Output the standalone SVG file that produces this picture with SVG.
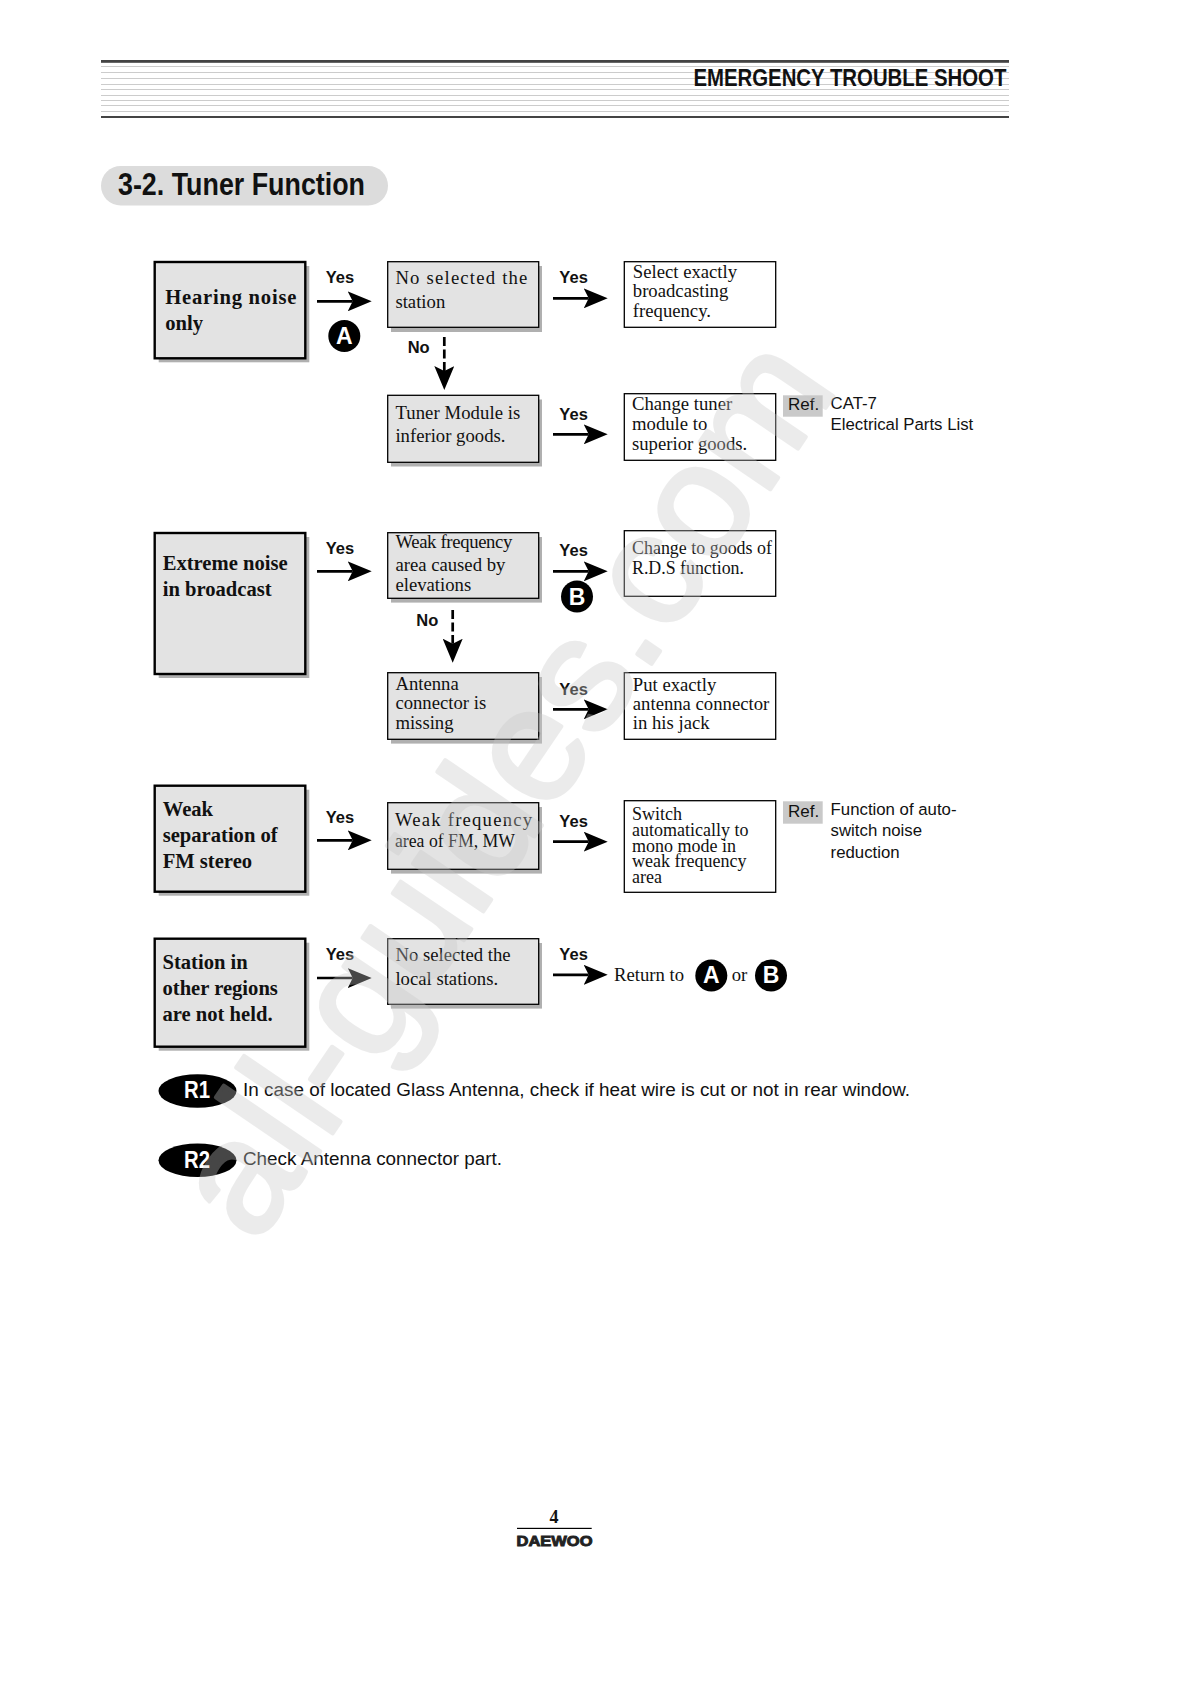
<svg xmlns="http://www.w3.org/2000/svg" width="1191" height="1684" viewBox="0 0 1191 1684">
<style>
text{font-family:"Liberation Serif","Times New Roman",serif;fill:#111}
.sans{font-family:"Liberation Sans",Arial,sans-serif}
.head{font-family:"Liberation Sans",Arial,sans-serif;font-weight:700}
.yes{font-family:"Liberation Sans",Arial,sans-serif;font-weight:700;font-size:16.5px;text-anchor:middle}
.big{font-weight:700;font-size:20.6px}
.t{font-size:18.7px}
.s{font-size:18px}
.note{font-family:"Liberation Sans",Arial,sans-serif;font-size:16.8px}
.ref{font-family:"Liberation Sans",Arial,sans-serif;font-size:17px}
.sh{fill:#b0b0b0}
.thick{fill:#e3e3e3;stroke:#000;stroke-width:2.4}
.mid{fill:#e3e3e3;stroke:#000;stroke-width:1.3}
.plain{fill:#fff;stroke:#000;stroke-width:1.3}
.refbg{fill:#c9c9c9}
.rule{fill:#444}
.ln{stroke:#ccc;stroke-width:1}
.conn{stroke:#000;stroke-width:2.7;fill:none;marker-end:url(#ah)}
.dash{stroke-dasharray:9 3.5}
.badge{fill:#000}
.bl{font-family:"Liberation Sans",Arial,sans-serif;font-weight:700;font-size:23px;text-anchor:middle;fill:#fff}
</style>
<defs>
<marker id="ah" markerUnits="userSpaceOnUse" markerWidth="24" markerHeight="20" viewBox="0 0 24 20" refX="5" refY="10" orient="auto"><path d="M0 0L24 10L0 20L5 10Z" fill="#000"/></marker>
</defs>
<rect width="1191" height="1684" fill="#fff"/>
<g id="header">
<rect class="rule" x="101" y="60" width="908" height="2.8"/>
<g class="ln"><path d="M101 66.5H1009M101 72.5H1009M101 78.5H1009M101 84.5H1009M101 89.5H1009M101 95.5H1009M101 100.5H1009M101 105.5H1009M101 111.5H1009"/></g>
<rect class="rule" x="101" y="116" width="908" height="2"/>
<text class="head" x="693.4" y="85.5" font-size="23.5" textLength="313" lengthAdjust="spacingAndGlyphs">EMERGENCY TROUBLE SHOOT</text>
</g>
<g id="section-title">
<rect x="101" y="166" width="287" height="39.5" rx="19.7" fill="#dcdcdc"/>
<text class="head" x="118" y="195" font-size="31" textLength="247" lengthAdjust="spacingAndGlyphs">3-2. Tuner Function</text>
</g>

<g id="n-hearing"><rect class="sh" x="158.7" y="266" width="150.6" height="96.3"/><rect class="thick" x="154.7" y="262" width="150.6" height="96.3"/>
<text class="big" x="165.3" y="304" textLength="131">Hearing noise</text><text class="big" x="165.3" y="330">only</text></g>
<g id="n-noselected"><rect class="sh" x="391" y="266" width="151" height="66"/><rect class="mid" x="387.7" y="261.7" width="151" height="65.6"/>
<text class="t" x="395.4" y="284.3" textLength="132">No selected the</text><text class="t" x="395.4" y="308.3">station</text></g>
<g id="n-select"><rect class="plain" x="624.3" y="261.7" width="151.4" height="65.6"/>
<text class="t" x="632.8" y="278.3">Select exactly</text><text class="t" x="632.8" y="297.4">broadcasting</text><text class="t" x="632.8" y="317">frequency.</text></g>
<g id="n-tuner"><rect class="sh" x="391" y="399.5" width="151" height="67"/><rect class="mid" x="387.7" y="395.3" width="151" height="67"/>
<text class="t" x="395.4" y="419" textLength="125">Tuner Module is</text><text class="t" x="395.4" y="442">inferior goods.</text></g>
<g id="n-change"><rect class="plain" x="624.3" y="393.7" width="151.4" height="66.6"/>
<text class="t" x="632" y="410.3">Change tuner</text><text class="t" x="632" y="430.3">module to</text><text class="t" x="632" y="450">superior goods.</text></g>
<g id="n-ref1"><rect class="refbg" x="783" y="395.3" width="39.7" height="21.4"/><text class="ref" x="788" y="410">Ref.</text>
<text class="note" x="830.6" y="409.3">CAT-7</text><text class="note" x="830.6" y="430.3">Electrical Parts List</text></g>

<g id="n-extreme"><rect class="sh" x="158.7" y="537" width="150.6" height="141"/><rect class="thick" x="154.7" y="533" width="150.6" height="141"/>
<text class="big" x="162.7" y="570">Extreme noise</text><text class="big" x="162.7" y="596">in broadcast</text></g>
<g id="n-weakarea"><rect class="sh" x="391" y="537" width="151" height="65.6"/><rect class="mid" x="387.7" y="532.7" width="151" height="65.6"/>
<text class="t" x="395.4" y="548" textLength="117">Weak frequency</text><text class="t" x="395.4" y="570.7">area caused by</text><text class="t" x="395.4" y="590.7">elevations</text></g>
<g id="n-rds"><rect class="plain" x="624.3" y="530.7" width="151.4" height="65.6"/>
<text class="s" x="632" y="554" textLength="140" lengthAdjust="spacingAndGlyphs">Change to goods of</text><text class="s" x="632" y="574" textLength="112" lengthAdjust="spacingAndGlyphs">R.D.S function.</text></g>
<g id="n-antenna"><rect class="sh" x="391" y="677" width="151" height="66.6"/><rect class="mid" x="387.7" y="672.7" width="151" height="66.6"/>
<text class="t" x="395.4" y="690">Antenna</text><text class="t" x="395.4" y="709.3">connector is</text><text class="t" x="395.4" y="729.3">missing</text></g>
<g id="n-put"><rect class="plain" x="624.3" y="672.7" width="151.4" height="66.6"/>
<text class="t" x="632.8" y="691">Put exactly</text><text class="t" x="632.8" y="709.5">antenna connector</text><text class="t" x="632.8" y="728.5">in his jack</text></g>

<g id="n-weaksep"><rect class="sh" x="158.7" y="789.7" width="150.6" height="106"/><rect class="thick" x="154.7" y="785.7" width="150.6" height="106"/>
<text class="big" x="162.7" y="815.7">Weak</text><text class="big" x="162.7" y="841.7">separation of</text><text class="big" x="162.7" y="867.7">FM stereo</text></g>
<g id="n-weakfm"><rect class="sh" x="391" y="807" width="151" height="66.6"/><rect class="mid" x="387.7" y="802.7" width="151" height="66.6"/>
<text class="t" x="395" y="826" textLength="137">Weak  frequency</text><text class="t" x="395" y="846.7" textLength="120" lengthAdjust="spacingAndGlyphs">area of FM, MW</text></g>
<g id="n-switch"><rect class="plain" x="624.3" y="800.7" width="151.4" height="91.6"/>
<text class="s" x="632" y="820">Switch</text><text class="s" x="632" y="836">automatically to</text><text class="s" x="632" y="851.7">mono mode in</text><text class="s" x="632" y="867.3">weak frequency</text><text class="s" x="632" y="883">area</text></g>
<g id="n-ref2"><rect class="refbg" x="783" y="801.3" width="39.7" height="22.4"/><text class="ref" x="788" y="816.7">Ref.</text>
<text class="note" x="830.6" y="815">Function of auto-</text><text class="note" x="830.6" y="836">switch noise</text><text class="note" x="830.6" y="857.7">reduction</text></g>

<g id="n-station"><rect class="sh" x="158.7" y="942.7" width="150.6" height="108"/><rect class="thick" x="154.7" y="938.7" width="150.6" height="108"/>
<text class="big" x="162.5" y="968.7">Station in</text><text class="big" x="162.5" y="995">other regions</text><text class="big" x="162.5" y="1020.7">are not held.</text></g>
<g id="n-local"><rect class="sh" x="391" y="943" width="151" height="65.6"/><rect class="mid" x="387.7" y="938.7" width="151" height="65.6"/>
<text class="t" x="395.4" y="961">No selected the</text><text class="t" x="395.4" y="985">local stations.</text></g>
<g id="n-return"><text class="t" x="614" y="981.4">Return to</text>
<circle class="badge" cx="711.3" cy="975.5" r="16"/><text class="bl" x="711.3" y="983">A</text>
<text class="t" x="731.7" y="981.4">or</text>
<circle class="badge" cx="771" cy="975.5" r="16"/><text class="bl" x="771" y="983">B</text></g>

<g id="badge-a"><circle class="badge" cx="344.3" cy="336" r="16"/><text class="bl" x="344.3" y="344">A</text></g>
<g id="badge-b"><circle class="badge" cx="577" cy="596.5" r="16"/><text class="bl" x="577" y="604.5">B</text></g>

<g id="connectors">
<line class="conn" x1="317" y1="301.3" x2="352.7" y2="301.3"/>
<line class="conn" x1="553" y1="298.3" x2="588.7" y2="298.3"/>
<line class="conn" x1="553" y1="434.3" x2="588.7" y2="434.3"/>
<line class="conn dash" x1="444.3" y1="337" x2="444.3" y2="371"/>
<line class="conn" x1="317" y1="571.3" x2="352.7" y2="571.3"/>
<line class="conn" x1="553" y1="571.3" x2="588.7" y2="571.3"/>
<line class="conn" x1="553" y1="709.3" x2="588.7" y2="709.3"/>
<line class="conn dash" x1="452.7" y1="610" x2="452.7" y2="643.7"/>
<line class="conn" x1="317" y1="840.3" x2="352.7" y2="840.3"/>
<line class="conn" x1="553" y1="841.7" x2="588.7" y2="841.7"/>
<line class="conn" x1="317" y1="978" x2="352.7" y2="978"/>
<line class="conn" x1="553" y1="974.8" x2="588.7" y2="974.8"/>
</g>
<g id="connector-labels">
<text class="yes" x="340" y="282.7">Yes</text>
<text class="yes" x="573.6" y="283">Yes</text>
<text class="yes" x="418.7" y="353.3">No</text>
<text class="yes" x="573.6" y="420">Yes</text>
<text class="yes" x="340" y="553.7">Yes</text>
<text class="yes" x="573.6" y="555.7">Yes</text>
<text class="yes" x="427.3" y="626">No</text>
<text class="yes" x="573.6" y="695">Yes</text>
<text class="yes" x="340" y="822.7">Yes</text>
<text class="yes" x="573.6" y="826.7">Yes</text>
<text class="yes" x="340" y="960">Yes</text>
<text class="yes" x="573.6" y="960">Yes</text>
</g>

<g id="remark-r1"><ellipse class="badge" cx="197.5" cy="1091" rx="39" ry="16.7"/><text class="bl" x="197" y="1098.3" textLength="26" lengthAdjust="spacingAndGlyphs">R1</text>
<text class="sans" x="243" y="1096" font-size="19.2" textLength="667" lengthAdjust="spacingAndGlyphs">In case of located Glass Antenna, check if heat wire is cut or not in rear window.</text></g>
<g id="remark-r2"><ellipse class="badge" cx="197.5" cy="1160.3" rx="39" ry="16.7"/><text class="bl" x="197" y="1167.7" textLength="26" lengthAdjust="spacingAndGlyphs">R2</text>
<text class="sans" x="243" y="1165.3" font-size="19.2" textLength="259" lengthAdjust="spacingAndGlyphs">Check Antenna connector part.</text></g>

<g id="footer">
<text x="554" y="1523" font-size="18" font-weight="700" text-anchor="middle">4</text>
<rect x="517" y="1527.8" width="74.7" height="1.2" fill="#000"/>
<text class="head" x="516.5" y="1546" font-size="14.5" textLength="76" lengthAdjust="spacingAndGlyphs" style="fill:#222;stroke:#222;stroke-width:.9">DAEWOO</text>
</g>

<g id="watermark" opacity="0.35">
<text class="sans" transform="translate(256 1246) rotate(-55.8)" font-size="161" style="fill:#c8c8c8;stroke:#c8c8c8;stroke-width:4;stroke-linejoin:round">all-guides.com</text>
</g>
</svg>
